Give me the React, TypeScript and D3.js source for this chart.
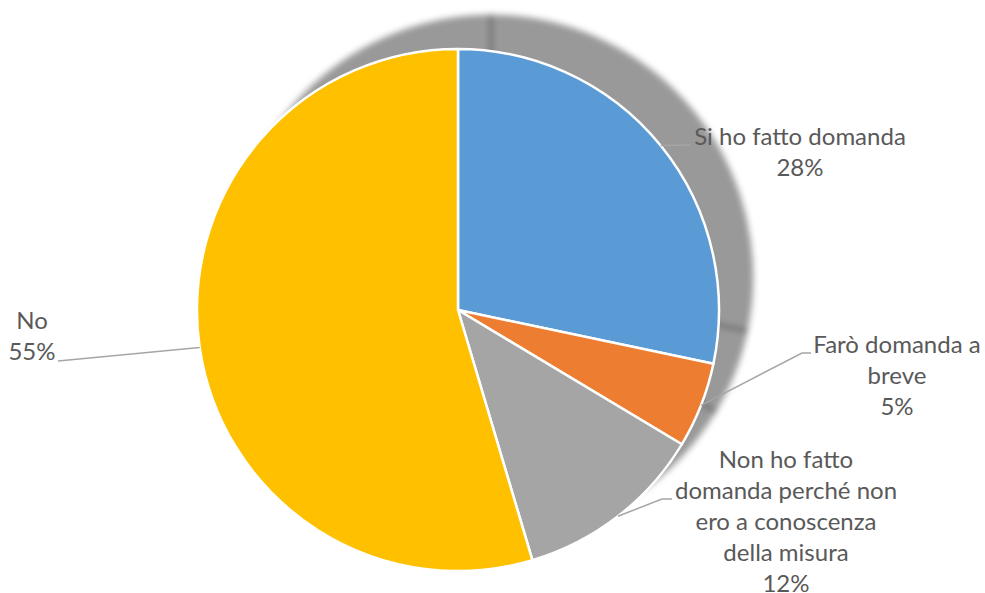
import { useMemo } from 'react';
import * as d3 from 'd3';

// chart data
const categories = ['Si ho fatto domanda', 'Farò domanda a breve', 'Non ho fatto domanda perché non ero a conoscenza della misura', 'No'];
const shares = [28.3, 5.3, 11.8, 54.6];
const labelLines = [['Si ho fatto domanda'], ['Farò domanda a', 'breve'], ['Non ho fatto', 'domanda perché non', 'ero a conoscenza', 'della misura'], ['No']];
const colors = ['#5B9BD5', '#ED7D31', '#A5A5A5', '#FFC000'];

// label placement (text centre x, first baseline y, leader elbow)
const labelLayout = [
	{ x: 800, y: 145, elbow: [690, 145], end: [690, 145] },
	{ x: 897, y: 353, elbow: [802, 353], end: [811, 353] },
	{ x: 786, y: 468, elbow: [662, 499], end: [672, 499] },
	{ x: 32, y: 329, elbow: [58, 361], end: [58, 361] },
];

const W = 985;
const H = 593;
const CX = 458;
const CY = 310;
const R = 261;
const LINE_H = 31;
const FONT = 'Lato, "Open Sans", sans-serif';

export default function App() {
	const arcs = useMemo(() => d3.pie<number>().sort(null).value((d) => d)(shares), []);
	const arc = useMemo(() => d3.arc<d3.PieArcDatum<number>>().innerRadius(0).outerRadius(R), []);
	const edge = useMemo(() => d3.arc<d3.PieArcDatum<number>>().innerRadius(R).outerRadius(R), []);
	const pct = d3.format('.0%');

	return (
		<svg width={W} height={H} style={{ position: 'absolute', left: 0, top: 0, display: 'block', background: '#fff' }}>
			<defs>
				<filter id="shadowBlur" x="-20%" y="-20%" width="140%" height="140%">
					<feGaussianBlur stdDeviation="3" />
				</filter>
			</defs>

			{/* soft drop shadow, one per slice so the seams overlap darker */}
			<g transform={`translate(${CX + 33},${CY - 33})`} filter="url(#shadowBlur)">
				{arcs.map((a, i) => (
					<path key={`s-${i}`} d={arc(a) ?? ''} fill="#000" stroke="#000" strokeWidth={2.5} opacity={0.4} />
				))}
			</g>

			<g transform={`translate(${CX},${CY})`}>
				{arcs.map((a, i) => (
					<path key={categories[i]} d={arc(a) ?? ''} fill={colors[i]} stroke="#fff" strokeWidth={2.5} strokeLinejoin="round" />
				))}
			</g>

			{/* leader lines */}
			{arcs.map((a, i) => {
				const [sx, sy] = edge.centroid(a);
				const l = labelLayout[i];
				const pts: [number, number][] = [[CX + sx, CY + sy], l.elbow as [number, number], l.end as [number, number]];
				return <path key={`l-${i}`} d={d3.line()(pts) ?? ''} fill="none" stroke="#A6A6A6" strokeWidth={1.5} />;
			})}

			{/* data labels */}
			{arcs.map((a, i) => {
				const l = labelLayout[i];
				const lines = [...labelLines[i], pct(a.value / 100)];
				return (
					<text key={`t-${i}`} x={l.x} y={l.y} textAnchor="middle" fontFamily={FONT} fontSize={24} fill="#595959">
						{lines.map((t, j) => (
							<tspan key={j} x={l.x} y={l.y + j * LINE_H}>
								{t}
							</tspan>
						))}
					</text>
				);
			})}
		</svg>
	);
}
